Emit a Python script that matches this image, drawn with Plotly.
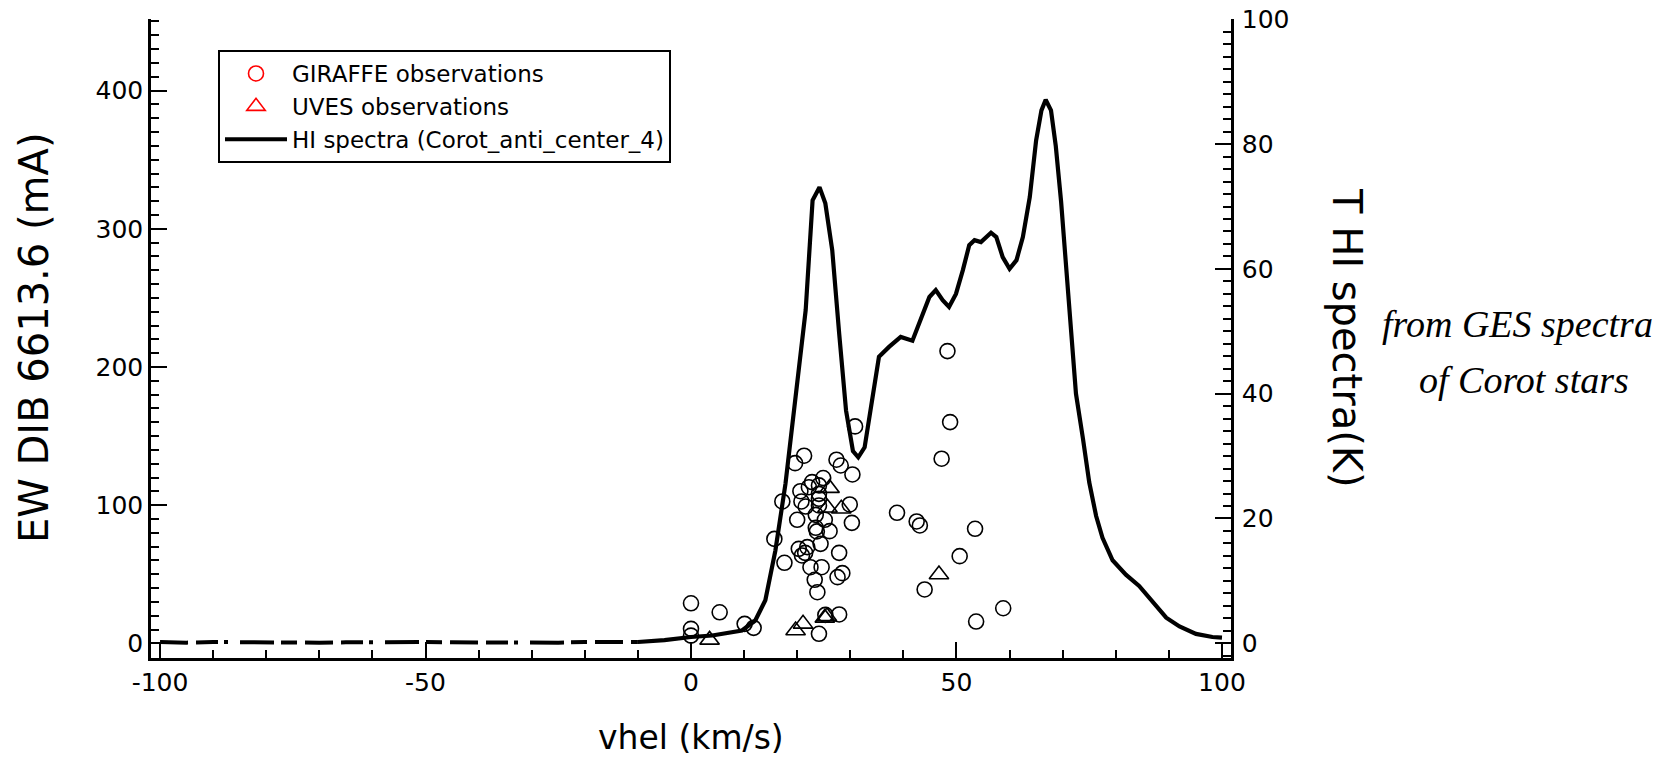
import plotly.graph_objects as go

# ---------------- data ----------------
# HI spectrum (Corot_anti_center_4), brightness temperature in K
hi_noise_v = [-100, -95, -90, -85, -80, -75, -70, -65, -60, -55, -50, -45, -40, -35, -30, -25, -20, -15, -10]
hi_noise_t = [0.2, 0.1, 0.2, 0.15, 0.1, 0.2, 0.1, 0.15, 0.2, 0.1, 0.2, 0.15, 0.1, 0.2, 0.15, 0.1, 0.2, 0.15, 0.2]

hi_v = [-10, -5, 0, 4, 9.6, 12.1, 14, 15.9, 17.8, 19.7, 21.6, 22.9, 24.2, 25.3, 26.6, 27.9,
        29.2, 30.5, 31.5, 32.7, 34.1, 35.4, 37.3, 39.5, 41.7, 43.3, 44.9, 46.1, 47.4, 48.6,
        49.9, 51.2, 52.4, 53.4, 54.6, 56.5, 57.5, 58.7, 60.0, 61.3, 62.5, 63.8, 65.0, 66.0,
        66.8, 67.8, 68.7, 69.7, 70.6, 71.6, 72.5, 73.8, 75.0, 76.3, 77.5, 79.4, 81.9, 84.4,
        86.9, 89.5, 92.0, 95.1, 98.2, 100]
hi_t = [0.2, 0.5, 1.0, 1.25, 2.05, 3.65, 6.9, 14.9, 25.6, 38.9, 53.4, 71.0, 73.1, 70.5, 63.0, 49.7,
        37.3, 30.8, 29.8, 31.4, 39.5, 45.9, 47.5, 49.1, 48.5, 51.8, 55.5, 56.6, 55.0, 53.9,
        56.0, 59.8, 63.8, 64.6, 64.3, 65.8, 65.1, 61.9, 60.0, 61.4, 65.1, 71.5, 80.6, 85.4,
        87.1, 85.4, 79.7, 70.8, 60.7, 50.1, 40.0, 32.9, 25.8, 20.4, 16.9, 13.3, 11.0, 9.2,
        6.8, 4.1, 2.7, 1.5, 1.0, 0.9]

# GIRAFFE observations: heliocentric velocity (km/s), EW of DIB 6613.6 (mA)
giraffe_v = [0, 0, 0, 5.4, 10.1, 11.8, 15.7, 17.6, 17.2, 19.6, 21.3, 20.0, 20.6, 20.8, 21.6,
             22.2, 22.8, 24.1, 24.9, 24.1, 24.1, 24.1, 23.5, 25.2, 23.5, 23.7, 26.1, 24.4,
             20.3, 21.9, 20.9, 21.5, 22.5, 24.6, 23.3, 23.8, 27.9, 27.6, 28.5, 27.4, 28.2,
             30.4, 29.9, 30.3, 30.9, 24.1, 25.3, 27.9, 48.3, 48.8, 47.2, 38.8, 42.5, 43.1,
             53.5, 50.6, 44.0, 58.8, 53.7]
giraffe_ew = [29, 10.5, 5.6, 22.5, 14.1, 11.2, 75.6, 58.3, 102.7, 130.4, 135.8, 89.4, 110.1,
              102.7, 99, 113, 116.7, 114.3, 119.6, 108.2, 104.6, 99.8, 93, 89.4, 83.6, 81,
              81.2, 72, 68.4, 69.6, 63.6, 65.5, 55.1, 55.1, 46, 37, 65.5, 47.9, 50.8, 132.9,
              128.7, 122.2, 100.5, 87.2, 157, 6.9, 20.6, 20.9, 211.5, 160.1, 133.6, 94.5,
              88.2, 85.3, 82.9, 63.1, 39.0, 25.4, 15.8]

# UVES observations
uves_v = [3.5, 19.7, 21.1, 25.2, 25.6, 26.1, 25.7, 28.3, 46.7]
uves_ew = [2.5, 9.3, 14.1, 18.4, 19.5, 112.3, 98.1, 97.4, 49.8]

x_ticks = [-100, -50, 0, 50, 100]
x_tick_text = ["-100", "-50", "0", "50", "100"]
y_left_ticks = [0, 100, 200, 300, 400]
y_right_ticks = [0, 20, 40, 60, 80, 100]

# ---------------- layout geometry (page pixels) ----------------
W, H = 1666, 758
L, T = 151, 19
R = W - 1231
B = H - 658
PW, PH = W - L - R, H - T - B


def px(xpage):
    return (xpage - L) / PW


def py(ypage):
    return 1 - (ypage - T) / PH


FONT = "DejaVu Sans"

fig = go.Figure()

fig.add_trace(go.Scatter(x=giraffe_v, y=giraffe_ew, mode="markers", showlegend=False,
                         marker=dict(symbol="circle-open", size=15, color="black",
                                     line=dict(width=1.6, color="black"))))
fig.add_trace(go.Scatter(x=uves_v, y=uves_ew, mode="markers", showlegend=False,
                         marker=dict(symbol="triangle-up-open", size=17, color="black",
                                     line=dict(width=1.6, color="black"))))
fig.add_trace(go.Scatter(x=hi_noise_v, y=hi_noise_t, mode="lines", yaxis="y2", showlegend=False,
                         line=dict(color="black", width=4,
                                   dash="28px,8px,22px,6px,4px,12px,34px,7px,16px,8px")))
fig.add_trace(go.Scatter(x=hi_v, y=hi_t, mode="lines", yaxis="y2", showlegend=False,
                         line=dict(color="black", width=4.2)))

# legend entries
fig.add_trace(go.Scatter(x=[None], y=[None], mode="markers", name="GIRAFFE observations",
                         marker=dict(symbol="circle-open", size=15, color="red",
                                     line=dict(width=1.6, color="red"))))
fig.add_trace(go.Scatter(x=[None], y=[None], mode="markers", name="UVES observations",
                         marker=dict(symbol="triangle-up-open", size=16, color="red",
                                     line=dict(width=1.6, color="red"))))
fig.add_trace(go.Scatter(x=[None], y=[None], mode="lines", name="HI spectra (Corot_anti_center_4)",
                         line=dict(color="black", width=4.2)))

axis_common = dict(showline=True, linecolor="black", linewidth=2.5, showgrid=False,
                   zeroline=False, ticks="inside", ticklen=16, tickwidth=2, tickcolor="black",
                   ticklabeloverflow="allow", automargin=False,
                   tickfont=dict(family=FONT, size=25, color="black"))

fig.update_layout(
    width=W, height=H,
    margin=dict(l=L, r=R, t=T, b=B, autoexpand=False),
    paper_bgcolor="white", plot_bgcolor="white",
    font=dict(family=FONT, color="black"),
    xaxis=dict(range=[-101.7, 101.7], tickvals=x_ticks, ticktext=x_tick_text,
               minor=dict(dtick=10, ticks="inside", ticklen=8, tickwidth=2, tickcolor="black"),
               **axis_common),
    yaxis=dict(range=[-10.6, 451.8], tickvals=y_left_ticks,
               minor=dict(dtick=10, ticks="inside", ticklen=8, tickwidth=2, tickcolor="black"),
               **axis_common),
    yaxis2=dict(range=[-2.36, 100.05], tickvals=y_right_ticks, overlaying="y", side="right",
                ticklabelstandoff=3,
                minor=dict(dtick=2, ticks="inside", ticklen=8, tickwidth=2, tickcolor="black"),
                **axis_common),
    legend=dict(x=px(218), y=py(50), xanchor="left", yanchor="top",
                bordercolor="black", borderwidth=2, bgcolor="white",
                font=dict(family=FONT, size=23, color="black"),
                itemwidth=62, tracegroupgap=0),
    annotations=[
        dict(text="vhel (km/s)", xref="paper", yref="paper", x=px(691), y=py(737),
             xanchor="center", yanchor="middle", showarrow=False,
             font=dict(family=FONT, size=33)),
        dict(text="EW DIB 6613.6 (mA)", textangle=-90, xref="paper", yref="paper",
             x=px(34), y=py(338), xanchor="center", yanchor="middle", showarrow=False,
             font=dict(family=FONT, size=40)),
        dict(text="T HI spectra(K)", textangle=90, xref="paper", yref="paper",
             x=px(1347), y=py(338), xanchor="center", yanchor="middle", showarrow=False,
             font=dict(family=FONT, size=40)),
        dict(text="<i>from GES spectra</i>", xref="paper", yref="paper",
             x=px(1517), y=py(324), xanchor="center", yanchor="middle", showarrow=False,
             font=dict(family="Liberation Serif", size=38)),
        dict(text="<i>of Corot stars</i>", xref="paper", yref="paper",
             x=px(1524), y=py(380), xanchor="center", yanchor="middle", showarrow=False,
             font=dict(family="Liberation Serif", size=38)),
    ],
)

# remove the default 8 px page margin so the figure sits at the window's top-left corner
fig.write_html("out.html", config={"displayModeBar": False},
               post_script="document.body.style.margin='0';document.body.style.overflow='hidden';")
